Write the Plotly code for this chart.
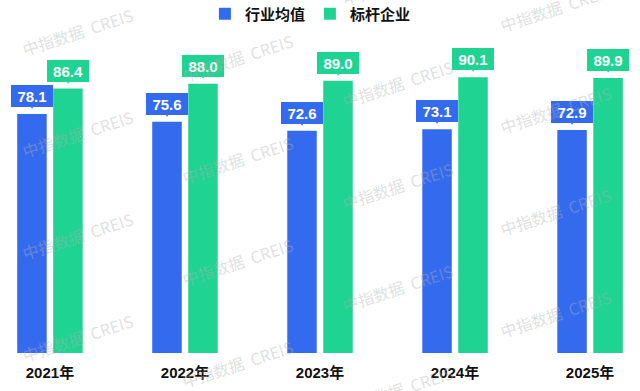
import plotly.graph_objects as go

# ---- data ----
years = ["2021年", "2022年", "2023年", "2024年", "2025年"]
industry_avg = [78.1, 75.6, 72.6, 73.1, 72.9]
benchmark = [86.4, 88.0, 89.0, 90.1, 89.9]
series_names = ["行业均值", "标杆企业"]
watermark_text = "中指数据  CREIS"

BLUE = "#346bee"
GREEN = "#1fd493"
NUM_FONT = "Liberation Sans, Arial, Noto Sans CJK SC"
CJK_FONT = "Noto Sans CJK SC, Liberation Sans, sans-serif"

fig = go.Figure()
fig.add_trace(go.Bar(x=years, y=industry_avg, name=f"<b>{series_names[0]}</b>",
                     marker=dict(color=BLUE, line=dict(width=0))))
fig.add_trace(go.Bar(x=years, y=benchmark, name=f"<b>{series_names[1]}</b>",
                     marker=dict(color=GREEN, line=dict(width=0))))

annotations = []
for vals, color, xs in ((industry_avg, BLUE, -18), (benchmark, GREEN, 18)):
    for yr, v in zip(years, vals):
        # pointer
        annotations.append(dict(x=yr, y=v, xref="x", yref="y", text="▼",
                                showarrow=False, xanchor="center", yanchor="bottom",
                                xshift=xs, yshift=1,
                                font=dict(size=8, color=color)))
        # label box
        annotations.append(dict(x=yr, y=v, xref="x", yref="y",
                                text=f"<b>{v:.1f}</b>",
                                showarrow=False, xanchor="center", yanchor="bottom",
                                xshift=xs, yshift=7,
                                bgcolor=color, bordercolor=color, borderwidth=1, borderpad=2,
                                width=36, height=16,
                                font=dict(size=15, color="white", family=NUM_FONT)))

# watermark grid (decoration)
PLOT_TOP, PLOT_BOTTOM = 47, 353
wm_cols = [77, 237, 397, 555]
for ci, cx in enumerate(wm_cols):
    base = 32 + 26 * ci
    while base - 102 > -20:
        base -= 102
    yy = base
    while yy < 420:
        annotations.append(dict(x=cx / 640, y=(PLOT_BOTTOM - yy) / (PLOT_BOTTOM - PLOT_TOP),
                                xref="paper", yref="paper", xanchor="center", yanchor="middle",
                                text=watermark_text, showarrow=False, textangle=-18,
                                font=dict(size=16, color="rgba(175,175,175,0.40)", family=CJK_FONT)))
        yy += 102

fig.update_layout(
    width=640, height=391,
    margin=dict(l=0, r=0, t=PLOT_TOP, b=391 - PLOT_BOTTOM, autoexpand=False),
    paper_bgcolor="white", plot_bgcolor="white",
    barmode="group", bargap=0.467, bargroupgap=0.18,
    showlegend=True,
    legend=dict(orientation="h", x=0.485, xanchor="center",
                y=(PLOT_BOTTOM - 14) / (PLOT_BOTTOM - PLOT_TOP), yanchor="middle",
                font=dict(size=15, color="#111111", family=CJK_FONT),
                itemclick=False, itemdoubleclick=False, bgcolor="rgba(0,0,0,0)"),
    xaxis=dict(type="category", range=[-0.37, 4.37], showgrid=False, showline=False,
               zeroline=False, ticks="", ticklabelstandoff=9,
               tickfont=dict(size=15, color="#111111", family=NUM_FONT),
               tickprefix="<b>", ticksuffix="</b>", fixedrange=True),
    yaxis=dict(range=[0, 100], visible=False, showgrid=False, zeroline=False, fixedrange=True),
    annotations=annotations,
)

fig.write_html("out.html", config={"displayModeBar": False},
               post_script="document.body.style.margin='0';document.body.style.overflow='hidden';")
